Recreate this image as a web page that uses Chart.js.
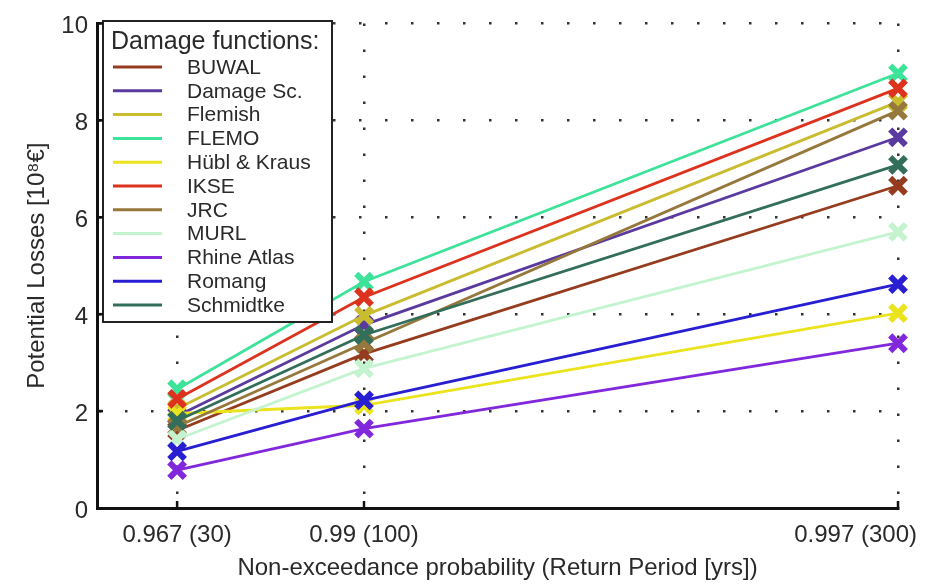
<!DOCTYPE html>
<html>
<head>
<meta charset="utf-8">
<script src="https://cdn.jsdelivr.net/npm/chart.js@4.4.1/dist/chart.umd.min.js"></script>
<style>
  html, body { margin: 0; padding: 0; background: #fff; }
  canvas { display: block; }
</style>
</head>
<body>
<canvas id="lossChart" width="937" height="586"></canvas>
<script>
// Return periods (years) and their non-exceedance probabilities
const returnPeriods = [30, 100, 300];
const xTickLabels = ['0.967 (30)', '0.99 (100)', '0.997 (300)'];
const yTicks = [0, 2, 4, 6, 8, 10];

// Potential losses [10^8 €] per damage function
const buwal     = [1.60, 3.18, 6.65];
const damageSc  = [1.90, 3.78, 7.65];
const flemish   = [2.05, 3.97, 8.38];
const flemo     = [2.45, 4.67, 8.97];
const huebl     = [1.95, 2.12, 4.02];
const ikse      = [2.25, 4.35, 8.66];
const jrc       = [1.68, 3.40, 8.20];
const murl      = [1.42, 2.88, 5.70];
const rhineAtlas = [0.78, 1.64, 3.40];
const romang    = [1.17, 2.22, 4.62];
const schmidtke = [1.80, 3.57, 7.08];

const seriesNames = ['BUWAL', 'Damage Sc.', 'Flemish', 'FLEMO', 'Hübl & Kraus', 'IKSE',
                     'JRC', 'MURL', 'Rhine Atlas', 'Romang', 'Schmidtke'];
const seriesValues = [buwal, damageSc, flemish, flemo, huebl, ikse, jrc, murl, rhineAtlas, romang, schmidtke];
const seriesColors = ['#963c1e', '#5b3aa0', '#c9bd2f', '#3ee39a', '#ebe31e', '#dc321e',
                      '#96783c', '#c4f4cf', '#8228dc', '#281ed2', '#326e5a'];

const FONT = '"Liberation Sans", Arial, Helvetica, sans-serif';
const TEXT = '#2a2a2a';

const datasets = seriesNames.map((name, i) => ({
  label: name,
  data: returnPeriods.map((rp, j) => ({ x: rp, y: seriesValues[i][j] })),
  borderColor: seriesColors[i],
  backgroundColor: seriesColors[i],
  borderWidth: 2.8,
  pointStyle: 'crossRot',
  pointRadius: 11,
  pointBorderWidth: 6,
  pointBorderColor: seriesColors[i],
  tension: 0,
  clip: false,
  order: -i            // later functions are painted on top
}));

// Legend box, inward tick marks and x tick labels
const decorPlugin = {
  id: 'lossDecor',
  afterDatasetsDraw(chart) {
    const ctx = chart.ctx;
    const lx = 103, ly = 21, lw = 229, lh = 301;
    ctx.save();
    ctx.fillStyle = '#fff';
    ctx.fillRect(lx, ly, lw, lh);
    ctx.strokeStyle = '#222';
    ctx.lineWidth = 2;
    ctx.strokeRect(lx, ly, lw, lh);
    ctx.fillStyle = TEXT;
    ctx.textBaseline = 'middle';
    ctx.textAlign = 'left';
    ctx.font = '25px ' + FONT;
    ctx.fillText('Damage functions:', 111, 42);
    ctx.font = '21px ' + FONT;
    chart.data.datasets.forEach((ds, i) => {
      const y = 67 + i * 23.8;
      ctx.strokeStyle = ds.borderColor;
      ctx.lineWidth = 3;
      ctx.beginPath();
      ctx.moveTo(113, y);
      ctx.lineTo(162, y);
      ctx.stroke();
      ctx.fillStyle = TEXT;
      ctx.fillText(ds.label, 187, y + 1);
    });
    ctx.restore();
  },
  afterDraw(chart) {
    const ctx = chart.ctx;
    const xs = chart.scales.x, ys = chart.scales.y;
    const area = chart.chartArea;
    ctx.save();
    ctx.strokeStyle = '#111';
    ctx.lineWidth = 2.5;
    // inward ticks on the y axis
    yTicks.forEach(v => {
      if (v === 0) return;
      const y = ys.getPixelForValue(v);
      ctx.beginPath();
      ctx.moveTo(area.left, y);
      ctx.lineTo(area.left + 6, y);
      ctx.stroke();
    });
    // inward ticks on the x axis
    returnPeriods.forEach(v => {
      const x = xs.getPixelForValue(v);
      ctx.beginPath();
      ctx.moveTo(x, area.bottom);
      ctx.lineTo(x, area.bottom - 7);
      ctx.stroke();
    });
    // x tick labels, kept inside the canvas
    ctx.fillStyle = TEXT;
    ctx.font = '24px ' + FONT;
    ctx.textBaseline = 'middle';
    ctx.textAlign = 'left';
    returnPeriods.forEach((v, i) => {
      const text = xTickLabels[i];
      const w = ctx.measureText(text).width;
      let x = xs.getPixelForValue(v) - w / 2;
      x = Math.min(x, chart.width - 20 - w);
      ctx.fillText(text, x, area.bottom + 27);
    });
    ctx.restore();
  }
};

new Chart(document.getElementById('lossChart'), {
  type: 'line',
  data: { datasets },
  options: {
    responsive: false,
    devicePixelRatio: 1,
    animation: false,
    layout: { padding: { top: 15, right: 39, left: 0, bottom: 0 } },
    plugins: { legend: { display: false }, tooltip: { enabled: false } },
    scales: {
      x: {
        type: 'linear',
        min: 0,
        max: 300,
        afterBuildTicks(scale) { scale.ticks = returnPeriods.map(v => ({ value: v })); },
        afterFit(scale) { scale.height = 78; },
        ticks: { display: false },
        grid: { color: '#333', lineWidth: 2.5, drawTicks: false },
        border: { display: true, color: '#111', width: 3, dash: [2.5, 23.5] },
        title: {
          display: true,
          text: 'Non-exceedance probability (Return Period [yrs])',
          color: TEXT,
          font: { family: FONT, size: 24 },
          padding: { top: 0, bottom: 3 }
        }
      },
      y: {
        min: 0,
        max: 10,
        afterBuildTicks(scale) { scale.ticks = yTicks.map(v => ({ value: v })); },
        afterFit(scale) { scale.width = 97; },
        ticks: {
          color: TEXT,
          font: { family: FONT, size: 24 },
          padding: 9,
          labelOffset: 3
        },
        grid: { color: '#333', lineWidth: 2.5, drawTicks: false },
        border: { display: true, color: '#111', width: 3, dash: [2.5, 23.5] },
        title: {
          display: true,
          text: 'Potential Losses [10⁸€]',
          color: TEXT,
          font: { family: FONT, size: 24 },
          padding: { top: 23, bottom: 0 }
        }
      }
    }
  },
  plugins: [decorPlugin]
});
</script>
</body>
</html>
